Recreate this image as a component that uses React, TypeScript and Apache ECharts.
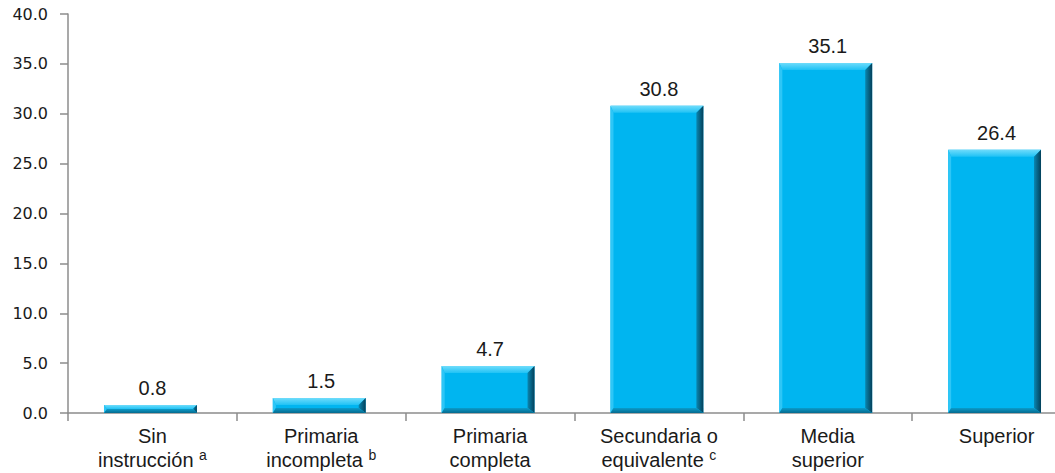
import React, { useEffect, useRef } from "react";
import * as echarts from "echarts";

const categories = [
  "Sin\ninstrucción",
  "Primaria\nincompleta",
  "Primaria\ncompleta",
  "Secundaria o\nequivalente",
  "Media\nsuperior",
  "Superior",
];
const notes = ["a", "b", "", "c", "", ""];
const values = [0.8, 1.5, 4.7, 30.8, 35.1, 26.4];
const yMin = 0;
const yMax = 40;
const yStep = 5;

export default function App() {
  const ref = useRef<HTMLDivElement>(null);
  useEffect(() => {
    document.body.style.margin = "0";
    const chart = echarts.init(ref.current!, null, { renderer: "svg" });
    const data = values.map((v, i) => [i, v]);
    const axisColor = "#8c8c8c";
    chart.setOption({
      animation: false,
      grid: { left: 68, top: 14, bottom: 60, right: 19, containLabel: false },
      xAxis: {
        type: "category",
        data: categories,
        boundaryGap: true,
        axisLine: { show: true, lineStyle: { color: axisColor, width: 1.5 } },
        axisTick: { show: true, length: 8, alignWithLabel: false, lineStyle: { color: axisColor, width: 1.5 } },
        axisLabel: {
          interval: 0,
          margin: 11,
          color: "#1a1a1a",
          fontFamily: '"Liberation Sans", Arial, sans-serif',
          fontSize: 20,
          lineHeight: 24,
          formatter: (val: string, idx: number) => {
            const lines = val.split("\n");
            const n = notes[idx];
            return lines
              .map((l, k) =>
                k === lines.length - 1 && n ? `{t|${l} }{sup|${n}}` : `{t|${l}}`
              )
              .join("\n");
          },
          rich: {
            t: {
              fontFamily: '"Liberation Sans", Arial, sans-serif',
              fontSize: 20,
              lineHeight: 24,
              color: "#1a1a1a",
            },
            sup: {
              fontFamily: '"Liberation Sans", Arial, sans-serif',
              fontSize: 14,
              lineHeight: 19,
              verticalAlign: "top",
              color: "#1a1a1a",
            },
          },
        },
        splitLine: { show: false },
      },
      yAxis: {
        type: "value",
        min: yMin,
        max: yMax,
        interval: yStep,
        axisLine: { show: true, lineStyle: { color: axisColor, width: 1.5 } },
        axisTick: { show: true, length: 8, inside: false, lineStyle: { color: axisColor, width: 1.5 } },
        axisLabel: {
          margin: 20,
          color: "#1a1a1a",
          fontFamily: '"DejaVu Sans", Verdana, sans-serif',
          fontSize: 16,
          formatter: (v: number) => v.toFixed(1),
        },
        splitLine: { show: false },
      },
      series: [
        {
          type: "custom",
          data,
          encode: { x: 0, y: 1 },
          renderItem: (params: any, api: any) => {
            const v = api.value(1);
            const idx = api.value(0);
            const top = api.coord([idx, v]);
            const base = api.coord([idx, 0]);
            const bw = api.size([1, 0])[0] * 0.55;
            const x = top[0] - bw / 2 - 2;
            const yT = top[1];
            const yB = base[1];
            const h = yB - yT;
            const b = Math.min(7, h / 2);
            const bl = Math.min(3, h / 2);
            const bb = Math.min(5, h / 2);
            const xr = x + bw;
            return {
              type: "group",
              children: [
                {
                  type: "rect",
                  shape: { x, y: yT, width: bw, height: h },
                  style: { fill: "#00B5F0" },
                },
                {
                  type: "polygon",
                  shape: { points: [[x, yT], [xr, yT], [xr - b, yT + b], [x + bl, yT + b]] },
                  style: {
                    fill: new echarts.graphic.LinearGradient(0, 0, 0, 1, [
                      { offset: 0, color: "#6FDCFB" },
                      { offset: 1, color: "#1FC2F5" },
                    ]),
                  },
                },
                {
                  type: "polygon",
                  shape: { points: [[x, yT], [x + bl, yT + b], [x + bl, yB - bb], [x, yB]] },
                  style: { fill: "#2EC6F6" },
                },
                {
                  type: "polygon",
                  shape: { points: [[xr, yT], [xr, yB], [xr - b, yB - bb], [xr - b, yT + b]] },
                  style: {
                    fill: new echarts.graphic.LinearGradient(0, 0, 1, 0, [
                      { offset: 0, color: "#0A86B0" },
                      { offset: 1, color: "#03405A" },
                    ]),
                  },
                },
                {
                  type: "polygon",
                  shape: { points: [[x, yB], [xr, yB], [xr - b, yB - bb], [x + bl, yB - bb]] },
                  style: {
                    fill: new echarts.graphic.LinearGradient(0, 0, 0, 1, [
                      { offset: 0, color: "#0A9CCB" },
                      { offset: 1, color: "#066A8E" },
                    ]),
                  },
                },
                {
                  type: "text",
                  x: top[0],
                  y: yT - 7,
                  style: {
                    text: v.toFixed(1),
                    fill: "#1a1a1a",
                    fontSize: 20,
                    fontFamily: '"Liberation Sans", Arial, sans-serif',
                    align: "center",
                    verticalAlign: "bottom",
                  },
                },
              ],
            };
          },
        },
      ],
    });
    return () => chart.dispose();
  }, []);
  return (
    <div style={{ width: 1055, height: 473, overflow: "hidden" }}>
      <div ref={ref} style={{ width: 1100, height: 473 }} />
    </div>
  );
}
